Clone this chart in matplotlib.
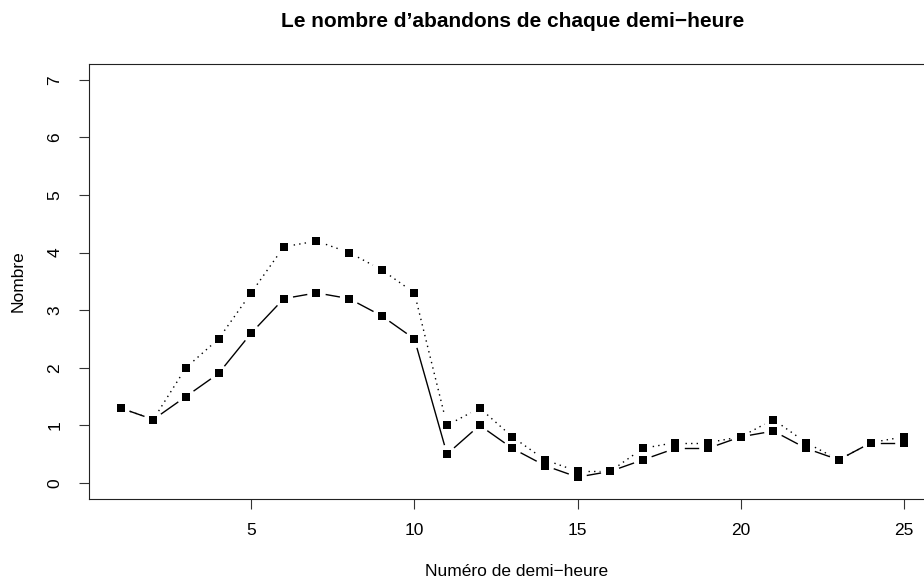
import numpy as np
import matplotlib
matplotlib.use("Agg")
import matplotlib.pyplot as plt

plt.rcParams['font.family'] = ['Liberation Sans', 'DejaVu Sans']

demi_heure = list(range(1, 26))
abandons_haut = [1.3, 1.1, 2.0, 2.5, 3.3, 4.1, 4.2, 4.0, 3.7, 3.3, 1.0, 1.3, 0.8,
                 0.4, 0.2, 0.2, 0.6, 0.7, 0.7, 0.8, 1.1, 0.7, 0.4, 0.7, 0.8]
abandons_bas = [1.3, 1.1, 1.5, 1.9, 2.6, 3.2, 3.3, 3.2, 2.9, 2.5, 0.5, 1.0, 0.6,
                0.3, 0.1, 0.2, 0.4, 0.6, 0.6, 0.8, 0.9, 0.6, 0.4, 0.7, 0.7]
x_ticks = [5, 10, 15, 20, 25]
y_ticks = [0, 1, 2, 3, 4, 5, 6, 7]

titre = "Le nombre d\u2019abandons de chaque demi\u2212heure"
xlab = "Num\u00e9ro de demi\u2212heure"
ylab = "Nombre"

W, H = 924, 582
fig = plt.figure(figsize=(W / 100, H / 100), dpi=100)
left, right, top, bottom = 89.3, 935.3, 63.7, 499.0
ax = fig.add_axes([left / W, 1 - bottom / H, (right - left) / W, (bottom - top) / H])

xmin, xmax = min(demi_heure), max(demi_heure)
dx = 0.04 * (xmax - xmin)
ax.set_xlim(xmin - dx, xmax + dx)
ax.set_ylim(-0.28, 7.28)

for sp in ax.spines.values():
    sp.set_linewidth(0.8)
    sp.set_color('#222222')

ax.set_xticks(x_ticks)
ax.set_yticks(y_ticks)
ax.tick_params(direction='out', length=7.5, width=0.8, color='#333333',
               labelsize=12.5)
ax.tick_params(axis='x', pad=10)
ax.tick_params(axis='y', pad=12)
plt.setp(ax.get_yticklabels(), rotation=90, va='center')

gap_px = 10.0


def draw_b(xs, ys, **kw):
    pts = ax.transData.transform(np.column_stack([xs, ys]))
    inv = ax.transData.inverted()
    for p0, p1 in zip(pts[:-1], pts[1:]):
        d = p1 - p0
        L = np.hypot(d[0], d[1])
        if L <= 2 * gap_px:
            continue
        u = d / L
        seg = inv.transform(np.vstack([p0 + u * gap_px, p1 - u * gap_px]))
        ax.plot(seg[:, 0], seg[:, 1], **kw)
    ax.plot(xs, ys, linestyle='none', marker='s', markersize=5.6,
            markerfacecolor='black', markeredgewidth=0, color='black',
            clip_on=False)


draw_b(demi_heure, abandons_haut, color='black', linewidth=1.0,
       linestyle=(0, (1, 3)))
draw_b(demi_heure, abandons_bas, color='black', linewidth=1.0, linestyle='-')

cx = (left + right) / 2 / W
fig.text(cx, 1 - 26.7 / H, titre, ha='center', va='baseline',
         fontsize=15, fontweight='bold')
fig.text(cx + 4 / W, 1 - 571 / H, xlab, ha='center', va='center', fontsize=12.5)
fig.text(18 / W, 1 - (top + bottom) / 2 / H, ylab, ha='center', va='center',
         rotation=90, fontsize=12.5)

fig.savefig("out.png", dpi=100)
